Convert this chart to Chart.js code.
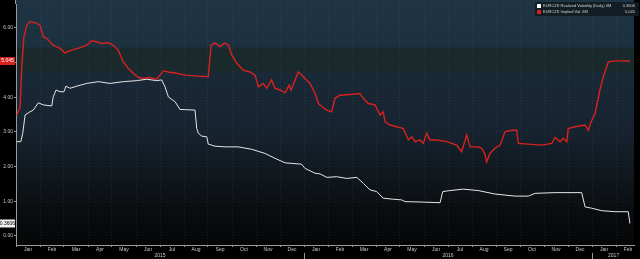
<!DOCTYPE html>
<html>
<head>
<meta charset="utf-8">
<script src="https://cdn.jsdelivr.net/npm/chart.js@4.4.1/dist/chart.umd.min.js"></script>
<style>
  html, body { margin: 0; padding: 0; background: #000; }
  canvas { display: block; }
</style>
</head>
<body>
<canvas id="volchart" width="640" height="259"></canvas>
<script>
// x values = months since 1 Jan 2015
var monthLabels = ['Jan','Feb','Mar','Apr','May','Jun','Jul','Aug','Sep','Oct','Nov','Dec',
                   'Jan','Feb','Mar','Apr','May','Jun','Jul','Aug','Sep','Oct','Nov','Dec',
                   'Jan','Feb'];
var yearLabels = ['2015', '2016', '2017'];
var yearPos = [6, 18, 24.9];
var yTicks = [0, 1, 2, 3, 4, 5, 6];

var impliedX = [0.03,0.17,0.24,0.33,0.45,0.58,0.79,1.0,1.14,1.28,1.55,1.83,2.04,2.32,2.67,2.95,3.15,3.36,3.57,3.85,
  4.05,4.26,4.47,4.68,4.89,5.10,5.30,5.58,5.86,6.0,6.14,6.35,6.63,7.04,7.6,8.01,8.13,8.29,8.5,8.71,
  8.85,8.99,9.2,9.47,9.75,9.96,10.1,10.3,10.45,10.65,10.79,11.0,11.21,11.38,11.46,11.63,11.76,11.9,12.04,12.25,
  12.46,12.6,12.8,12.95,13.15,13.29,13.5,13.92,14.33,14.47,14.68,14.96,15.17,15.3,15.38,15.58,15.86,16.14,16.35,16.49,
  16.63,16.83,16.97,17.11,17.25,17.53,17.95,18.36,18.57,18.78,18.92,19.26,19.4,19.54,19.61,19.75,19.96,20.17,20.38,20.65,
  20.86,20.93,21.35,21.9,22.32,22.46,22.67,22.8,22.95,23.01,23.29,23.71,23.85,23.96,24.13,24.33,24.47,24.68,24.96,25.24,25.58];
var impliedVol = [3.49,3.72,4.87,5.74,6.08,6.18,6.15,6.08,5.74,5.70,5.50,5.41,5.28,5.36,5.43,5.50,5.63,5.60,5.55,5.57,
  5.50,5.36,5.02,4.83,4.69,4.57,4.54,4.57,4.52,4.64,4.76,4.73,4.70,4.64,4.61,4.59,5.50,5.57,5.46,5.57,
  5.50,5.22,4.98,4.78,4.73,4.64,4.30,4.40,4.26,4.50,4.26,4.21,4.13,4.35,4.21,4.50,4.73,4.64,4.54,4.40,
  4.11,3.82,3.70,3.63,3.58,3.97,4.06,4.08,4.11,3.97,3.82,3.78,3.49,3.58,3.29,3.20,3.15,3.10,2.77,2.86,
  2.72,2.77,2.67,2.96,2.77,2.77,2.72,2.62,2.43,2.91,2.57,2.57,2.53,2.36,2.14,2.38,2.53,2.62,3.01,3.05,
  3.05,2.67,2.65,2.62,2.67,2.84,2.72,2.82,2.72,3.10,3.15,3.20,3.05,3.29,3.54,4.21,4.59,5.02,5.05,5.05,5.045];

var realizedX = [0.03,0.2,0.28,0.38,0.58,0.72,0.93,1.14,1.49,1.55,1.67,1.83,2.0,2.08,2.25,2.53,2.95,3.43,3.92,4.47,
  5.03,5.45,5.86,6.07,6.21,6.35,6.63,6.83,7.46,7.53,7.6,7.74,7.95,8.01,8.29,8.71,9.26,9.82,10.38,10.79,
  11.21,11.9,12.04,12.46,12.67,12.95,13.36,13.78,14.2,14.47,14.75,15.03,15.3,15.72,16.07,16.21,16.83,17.67,17.78,18.08,
  18.64,19.26,19.96,20.79,21.35,21.63,22.46,23.57,23.71,23.99,24.4,24.96,25.51,25.58];
var realizedVol = [2.72,2.72,2.96,3.49,3.58,3.63,3.84,3.78,3.75,4.01,4.21,4.16,4.16,4.32,4.26,4.32,4.40,4.45,4.40,4.45,
  4.48,4.52,4.48,4.50,4.30,4.01,3.87,3.65,3.63,3.10,2.96,2.88,2.86,2.65,2.59,2.57,2.57,2.50,2.38,2.24,
  2.11,2.07,1.95,1.81,1.79,1.69,1.71,1.66,1.69,1.52,1.33,1.28,1.09,1.06,1.04,0.99,0.98,0.96,1.28,1.31,
  1.35,1.31,1.21,1.15,1.15,1.23,1.25,1.25,0.84,0.80,0.73,0.70,0.70,0.3606];

var seriesNames = ['EURCZK Realized Volatility (Daily) 6M', 'EURCZK Implied Vol. 6M'];
var lastLabels = ['0.3606', '5.045'];

function pts(xs, ys) {
  return xs.map(function(x, i) { return {x: x, y: ys[i]}; });
}

var tinyFont = {family: 'Liberation Sans', size: 5};

// dark banded background of the plot area (from the very top of the canvas)
var bgPlugin = {
  id: 'bands',
  beforeDraw: function(chart) {
    var a = chart.chartArea, ctx = chart.ctx;
    var g = ctx.createLinearGradient(0, 0, 0, a.bottom);
    g.addColorStop(0, '#1e3444');
    g.addColorStop(0.19, '#1c3140');
    g.addColorStop(0.2, '#19292c');
    g.addColorStop(0.29, '#19292c');
    g.addColorStop(0.3, '#1a2938');
    g.addColorStop(0.55, '#16222e');
    g.addColorStop(0.72, '#10171d');
    g.addColorStop(0.86, '#0a0d10');
    g.addColorStop(1, '#050607');
    ctx.save();
    ctx.fillStyle = g;
    ctx.fillRect(a.left, 0, a.right - a.left, a.bottom);
    ctx.restore();
  }
};

// last-value tags on the y axis and the legend box
var tagPlugin = {
  id: 'tags',
  afterDraw: function(chart) {
    var ctx = chart.ctx, y = chart.scales.y, a = chart.chartArea;
    ctx.save();
    ctx.strokeStyle = '#9a9a9a';
    ctx.lineWidth = 1;
    ctx.beginPath();
    ctx.moveTo(a.left - 0.5, 0);
    ctx.lineTo(a.left - 0.5, a.top);
    ctx.stroke();

    ctx.font = '5px Liberation Sans';
    ctx.textBaseline = 'middle';
    var red = y.getPixelForValue(impliedVol[impliedVol.length - 1]);
    ctx.fillStyle = '#d8221f';
    ctx.fillRect(0, red - 4, a.left - 1, 8);
    ctx.fillStyle = '#fff';
    ctx.textAlign = 'center';
    ctx.fillText(lastLabels[1], (a.left - 1) / 2, red);
    var wh = y.getPixelForValue(realizedVol[realizedVol.length - 1]);
    ctx.fillStyle = '#f0f0f0';
    ctx.fillRect(0, wh - 4, a.left - 1, 8);
    ctx.fillStyle = '#000';
    ctx.fillText(lastLabels[0], (a.left - 1) / 2, wh);

    // legend
    var lx = 535, ly = 2;
    ctx.font = '4px Liberation Sans';
    ctx.fillStyle = 'rgba(18,27,34,0.92)';
    ctx.fillRect(lx, ly, 104, 14);
    var cols = ['#ffffff', '#d8221f'];
    for (var i = 0; i < 2; i++) {
      var ry = ly + 4 + i * 6;
      ctx.fillStyle = cols[i];
      ctx.fillRect(lx + 2, ry - 2, 4, 4);
      ctx.fillStyle = '#d0d0d0';
      ctx.textAlign = 'left';
      ctx.fillText(seriesNames[i], lx + 8, ry);
      ctx.textAlign = 'right';
      ctx.fillText(lastLabels[i], lx + 100, ry);
    }
    ctx.restore();
  }
};

const CHART = document.getElementById('volchart');

var lineChart = new Chart(CHART, {
  type: 'line',
  data: {
    datasets: [{
      label: seriesNames[0],
      data: pts(realizedX, realizedVol),
      borderColor: '#e6e6e6',
      borderWidth: 1,
      pointRadius: 0,
      tension: 0,
      fill: false
    }, {
      label: seriesNames[1],
      data: pts(impliedX, impliedVol),
      borderColor: '#d8221f',
      borderWidth: 1.4,
      pointRadius: 0,
      tension: 0,
      fill: false
    }]
  },
  options: {
    responsive: false,
    animation: false,
    devicePixelRatio: 1,
    layout: { autoPadding: false, padding: { left: 0, right: 6, top: 0, bottom: 0 } },
    plugins: { legend: { display: false }, tooltip: { enabled: false } },
    scales: {
      x: {
        type: 'linear',
        min: 0,
        max: 25.75,
        afterBuildTicks: function(s) {
          s.ticks = monthLabels.map(function(m, i) { return {value: i}; });
        },
        afterFit: function(s) { s.height = 8; },
        ticks: {
          autoSkip: false,
          maxRotation: 0,
          font: tinyFont,
          color: '#c8c8c8',
          padding: 0,
          labelOffset: 12,
          callback: function(v, i) { return monthLabels[i]; }
        },
        grid: { color: 'rgba(255,255,255,0.07)', tickColor: '#9a9a9a', tickLength: 2 },
        border: { color: '#9a9a9a', dash: [1, 2] }
      },
      x2: {
        type: 'linear',
        position: 'bottom',
        min: 0,
        max: 25.75,
        afterBuildTicks: function(s) {
          s.ticks = [{value: 6}, {value: 12}, {value: 18}, {value: 24}, {value: 24.9}];
        },
        afterFit: function(s) { s.height = 6; },
        ticks: {
          autoSkip: false,
          maxRotation: 0,
          font: tinyFont,
          color: '#c8c8c8',
          padding: -7,
          callback: function(v) {
            var k = yearPos.indexOf(v);
            return k >= 0 ? yearLabels[k] : '';
          }
        },
        grid: {
          drawOnChartArea: false,
          tickLength: 7,
          tickColor: function(c) {
            return (c.tick && (c.tick.value === 12 || c.tick.value === 24)) ? '#9a9a9a' : 'transparent';
          }
        },
        border: { display: false }
      },
      y: {
        min: -0.26,
        max: 6.69,
        afterBuildTicks: function(s) {
          s.ticks = yTicks.map(function(v) { return {value: v}; });
        },
        afterFit: function(s) { s.width = 16; },
        ticks: {
          font: tinyFont,
          color: '#c8c8c8',
          padding: 1,
          callback: function(v) { return v === 5 ? '' : v.toFixed(2); }
        },
        grid: { color: 'rgba(255,255,255,0.04)', tickColor: '#9a9a9a', tickLength: 2 },
        border: { color: '#9a9a9a', dash: [1, 2] }
      }
    }
  },
  plugins: [bgPlugin, tagPlugin]
});
</script>
</body>
</html>
